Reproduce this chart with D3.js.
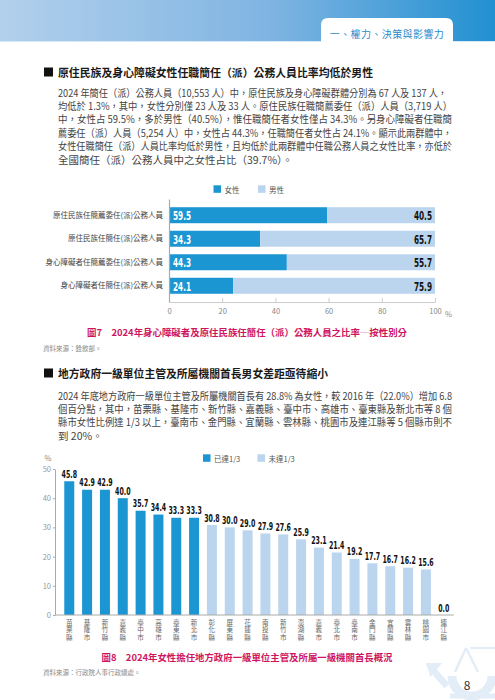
<!DOCTYPE html>
<html>
<head>
<meta charset="utf-8">
<script src="https://cdn.jsdelivr.net/npm/d3@7"></script>
<style>
  body { margin: 0; background: #fff; }
</style>
</head>
<body>
<div id="page"></div>
<script>
// chart 1 data
const cats1 = ["原住民族任簡薦委任(派)公務人員", "原住民族任簡任(派)公務人員", "身心障礙者任簡薦委任(派)公務人員", "身心障礙者任簡任(派)公務人員"];
const female1 = [59.5, 34.3, 44.3, 24.1];
const male1 = [40.5, 65.7, 55.7, 75.9];
const ticks1 = [0, 20, 40, 60, 80, 100];

// chart 2 data
const names2 = ["苗栗縣", "基隆市", "新竹縣", "嘉義縣", "臺中市", "高雄市", "臺東縣", "新北市", "彰化縣", "屏東縣", "花蓮縣",
                "南投縣", "新竹市", "澎湖縣", "嘉義市", "臺北市", "臺南市", "金門縣", "宜蘭縣", "雲林縣", "桃園市", "連江縣"];
const values2 = [45.8, 42.9, 42.9, 40.0, 35.7, 34.4, 33.3, 33.3, 30.8, 30.0, 29.0, 27.9, 27.6, 25.9, 23.1, 21.4, 19.2, 17.7, 16.7, 16.2, 15.6, 0.0];
const reached2 = ["苗栗縣", "基隆市", "新竹縣", "嘉義縣", "臺中市", "高雄市", "臺東縣", "新北市"];
const ticks2 = [0, 10, 20, 30, 40, 50];

const CJK = "'Noto Sans CJK TC','Noto Sans',sans-serif";
const NUM = "'DejaVu Sans',sans-serif";
const BLUE = "#1c95d3", LIGHT = "#bad5ed";

// condensed numbers: squeeze glyphs to the width seen in the picture
const numWidth = (s, digit, dot) => s.replace(/\./g, "").length * digit + (s.includes(".") ? dot : 0);

const svg = d3.select("#page").append("svg")
  .attr("width", 495).attr("height", 700)
  .style("font-family", CJK);

// ---- header band
const grad = svg.append("defs").append("linearGradient").attr("id", "hdr");
grad.append("stop").attr("offset", "0%").attr("stop-color", "#b2d0ec");
grad.append("stop").attr("offset", "55%").attr("stop-color", "#7fb4e2");
grad.append("stop").attr("offset", "100%").attr("stop-color", "#2190d1");
svg.append("rect").attr("x", 0).attr("y", 0).attr("width", 495).attr("height", 42).attr("fill", "url(#hdr)");
svg.append("rect").attr("x", 0).attr("y", 41).attr("width", 495).attr("height", 1).attr("fill", "#d6e7f5");
svg.append("path").attr("d", "M321,43V25Q321,18 328,18H446Q453,18 453,25V43Z").attr("fill", "#fff");
svg.append("text").attr("x", 387).attr("y", 33).attr("text-anchor", "middle").attr("dominant-baseline", "central")
  .attr("font-size", 10).attr("fill", "#2a8bcc").attr("letter-spacing", 0.4).text("一、權力、決策與影響力");

// ---- text blocks
function title(y, txt, len) {
  svg.append("rect").attr("x", 44).attr("y", y - 4.5).attr("width", 9).attr("height", 9).attr("fill", "#111");
  svg.append("text").attr("x", 58).attr("y", y).attr("dominant-baseline", "central")
    .attr("font-size", 11).attr("font-weight", "bold").attr("fill", "#1a1a1a")
    .attr("textLength", len).attr("lengthAdjust", "spacingAndGlyphs").text(txt);
}
function para(y0, lines) {
  lines.forEach(([t, w], i) => {
    const el = svg.append("text").attr("x", 58).attr("y", y0 + i * 13.4).attr("dominant-baseline", "central")
      .attr("font-size", 10.5).attr("fill", "#444").text(t);
    if (w) el.attr("textLength", w).attr("lengthAdjust", "spacingAndGlyphs");
  });
}

title(72, "原住民族及身心障礙女性任職簡任（派）公務人員比率均低於男性", 315);
para(92, [
  ["2024 年簡任（派）公務人員（10,553 人）中，原住民族及身心障礙群體分別為 67 人及 137 人，", 389],
  ["均低於 1.3%，其中，女性分別僅 23 人及 33 人。原住民族任職簡薦委任（派）人員（3,719 人）", 394],
  ["中，女性占 59.5%，多於男性（40.5%），惟任職簡任者女性僅占 34.3%。另身心障礙者任職簡", 394],
  ["薦委任（派）人員（5,254 人）中，女性占 44.3%，任職簡任者女性占 24.1%。顯示此兩群體中，", 394],
  ["女性任職簡任（派）人員比率均低於男性，且均低於此兩群體中任職公務人員之女性比率，亦低於", 394],
  ["全國簡任（派）公務人員中之女性占比（39.7%）。", null]
]);

title(373, "地方政府一級單位主管及所屬機關首長男女差距亟待縮小", 270);
para(395, [
  ["2024 年底地方政府一級單位主管及所屬機關首長有 28.8% 為女性，較 2016 年（22.0%）增加 6.8", 394],
  ["個百分點，其中，苗栗縣、基隆市、新竹縣、嘉義縣、臺中市、高雄市、臺東縣及新北市等 8 個", 394],
  ["縣市女性比例達 1/3 以上，臺南市、金門縣、宜蘭縣、雲林縣、桃園市及連江縣等 5 個縣市則不", 394],
  ["到 20%。", null]
]);

function caption(y, txt, len) {
  svg.append("text").attr("x", 247).attr("y", y).attr("text-anchor", "middle").attr("dominant-baseline", "central")
    .attr("font-size", 9.5).attr("font-weight", "bold").attr("fill", "#d0155f")
    .attr("textLength", len).attr("lengthAdjust", "spacingAndGlyphs").text(txt);
}
function source(y, txt) {
  svg.append("text").attr("x", 43).attr("y", y).attr("dominant-baseline", "central")
    .attr("font-size", 6.5).attr("fill", "#888").text(txt);
}
caption(332, "圖7　2024年身心障礙者及原住民族任簡任（派）公務人員之比率─按性別分", 320);
source(348, "資料來源：銓敘部。");
caption(657, "圖8　2024年女性擔任地方政府一級單位主管及所屬一級機關首長概況", 291);
source(672, "資料來源：行政院人事行政總處。");

// ---- legend helper
function legendItem(x, y, color, label) {
  svg.append("rect").attr("x", x).attr("y", y - 3.7).attr("width", 7.5).attr("height", 7.5).attr("fill", color);
  svg.append("text").attr("x", x + 11).attr("y", y).attr("dominant-baseline", "central")
    .attr("font-size", 7.5).attr("fill", "#555").text(label);
}

// ---- chart 1 : stacked horizontal bars
const x1 = d3.scaleLinear().domain([0, 100]).range([169, 435]);
const y1 = d3.scaleBand().domain(cats1).range([199, 302]).paddingInner(0.32).paddingOuter(0.35);

legendItem(213.5, 189, BLUE, "女性");
legendItem(258, 189, LIGHT, "男性");

const ax1 = svg.append("g").attr("transform", "translate(0,302)")
  .call(d3.axisBottom(x1).tickValues(ticks1).tickSizeInner(-4).tickSizeOuter(0).tickPadding(7));
ax1.select(".domain").attr("stroke", "#ccc");
ax1.selectAll(".tick line").attr("stroke", "#ccc");
ax1.selectAll(".tick text").attr("font-family", CJK).attr("font-size", 7.5).attr("fill", "#888");
svg.append("text").attr("x", x1(100) + 10).attr("y", 313).attr("dominant-baseline", "central")
  .attr("font-size", 7.5).attr("fill", "#888").text("%");

const rows1 = cats1.map((c, i) => ({ c, f: female1[i], m: male1[i] }));
svg.selectAll(".fbar").data(rows1).join("rect")
  .attr("x", x1(0)).attr("y", d => y1(d.c))
  .attr("width", d => x1(d.f) - x1(0)).attr("height", y1.bandwidth()).attr("fill", BLUE);
svg.selectAll(".mbar").data(rows1).join("rect")
  .attr("x", d => x1(d.f)).attr("y", d => y1(d.c))
  .attr("width", d => x1(d.f + d.m) - x1(d.f)).attr("height", y1.bandwidth()).attr("fill", LIGHT);

svg.selectAll(".flab").data(rows1).join("text")
  .attr("x", x1(0) + 4).attr("y", d => y1(d.c) + y1.bandwidth() / 2 + 0.5).attr("dominant-baseline", "central")
  .attr("font-family", NUM).attr("font-weight", "bold").attr("font-size", 13).attr("fill", "#fff")
  .attr("textLength", d => numWidth(d.f.toFixed(1), 5.1, 2.8)).attr("lengthAdjust", "spacingAndGlyphs")
  .text(d => d.f.toFixed(1));
svg.selectAll(".mlab").data(rows1).join("text")
  .attr("x", x1(100) - 3).attr("y", d => y1(d.c) + y1.bandwidth() / 2 + 0.5).attr("dominant-baseline", "central")
  .attr("text-anchor", "end")
  .attr("font-family", NUM).attr("font-weight", "bold").attr("font-size", 13).attr("fill", "#111")
  .attr("textLength", d => numWidth(d.m.toFixed(1), 5.1, 2.8)).attr("lengthAdjust", "spacingAndGlyphs")
  .text(d => d.m.toFixed(1));

const ay1 = svg.append("g").attr("transform", `translate(${x1(0)},0)`)
  .call(d3.axisLeft(y1).tickSize(0).tickPadding(6));
ay1.select(".domain").attr("stroke", "#aaa").attr("stroke-width", 1.2);
ay1.selectAll(".tick text").attr("font-family", CJK).attr("font-size", 7.5).attr("fill", "#444");

// ---- chart 2 : vertical bars
const x2 = d3.scaleBand().domain(names2).range([55, 458]).paddingInner(0.44).paddingOuter(0.52);
const y2 = d3.scaleLinear().domain([0, 50]).range([615, 469]);

svg.append("text").attr("x", 48).attr("y", 457).attr("text-anchor", "middle").attr("dominant-baseline", "central")
  .attr("font-size", 7.5).attr("fill", "#888").text("%");
legendItem(203, 458, BLUE, "已達1/3");
legendItem(257.5, 458, LIGHT, "未達1/3");

const ay2 = svg.append("g").attr("transform", "translate(55,0)")
  .call(d3.axisLeft(y2).tickValues(ticks2).tickSizeInner(2).tickSizeOuter(0).tickPadding(2));
ay2.select(".domain").attr("stroke", "#aaa");
ay2.selectAll(".tick line").attr("stroke", "#aaa");
ay2.selectAll(".tick text").attr("font-family", CJK).attr("font-size", 7.5).attr("fill", "#999");

const rows2 = names2.map((n, i) => ({ n, v: values2[i], ok: reached2.includes(n) }));
svg.selectAll(".bar2").data(rows2).join("rect")
  .attr("x", d => x2(d.n)).attr("y", d => y2(d.v))
  .attr("width", x2.bandwidth()).attr("height", d => y2(0) - y2(d.v))
  .attr("fill", d => d.ok ? BLUE : LIGHT);

svg.append("line").attr("x1", 55).attr("x2", x2(names2[names2.length - 1]) + x2.bandwidth() + 5)
  .attr("y1", y2(0)).attr("y2", y2(0)).attr("stroke", "#aaa");

svg.selectAll(".val2").data(rows2).join("text")
  .attr("x", d => x2(d.n) + x2.bandwidth() / 2).attr("y", d => y2(d.v) - 3.5)
  .attr("text-anchor", "middle")
  .attr("font-family", NUM).attr("font-weight", "bold").attr("font-size", 11).attr("fill", "#111")
  .attr("textLength", d => numWidth(d.v.toFixed(1), 4.4, 2.3)).attr("lengthAdjust", "spacingAndGlyphs")
  .text(d => d.v.toFixed(1));

// vertical category labels, one char per line
const lab2 = svg.selectAll(".lab2").data(rows2).join("text")
  .attr("text-anchor", "middle").attr("font-size", 6.6).attr("fill", "#666");
lab2.each(function (d) {
  const cx = x2(d.n) + x2.bandwidth() / 2;
  d3.select(this).selectAll("tspan").data(d.n.split("")).join("tspan")
    .attr("x", cx).attr("y", (c, i) => 625 + i * 7.4).text(c => c);
});

// ---- page number + faint emblem
const wm = svg.append("g").attr("fill", "none").attr("stroke", "#e3edf7");
wm.append("path").attr("d", "M452,676 A20,20 0 0 0 492,676").attr("stroke-width", 9);
wm.append("path").attr("d", "M447,686 L431,668").attr("stroke-width", 7);
wm.append("path").attr("d", "M427,664 L440,664 L431,675 Z").attr("fill", "#e3edf7").attr("stroke-width", 2);
wm.append("path").attr("d", "M466,648 L455,672 M466,648 L478,672").attr("stroke-width", 2.5);
wm.append("path").attr("d", "M470,648 H495").attr("stroke-width", 2);
wm.append("path").attr("d", "M450,696 H495").attr("stroke-width", 5);
svg.append("text").attr("x", 467).attr("y", 684).attr("text-anchor", "middle").attr("dominant-baseline", "central")
  .attr("font-size", 12).attr("fill", "#333").text("8");
</script>
</body>
</html>
